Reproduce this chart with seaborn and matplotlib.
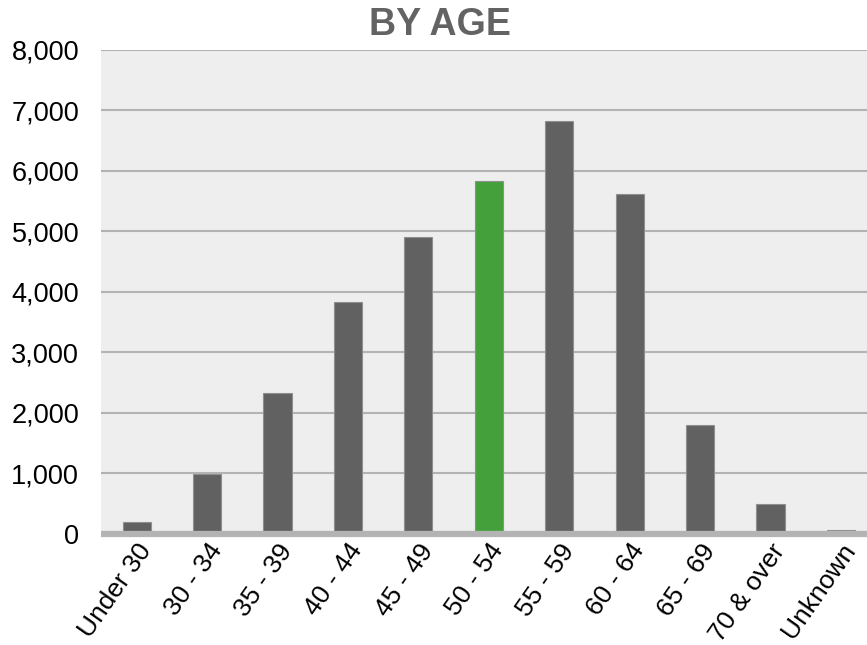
import matplotlib
matplotlib.use("Agg")
import matplotlib.pyplot as plt
import seaborn as sns
import pandas as pd
from matplotlib.ticker import FuncFormatter

categories = ["Under 30", "30 - 34", "35 - 39", "40 - 44", "45 - 49", "50 - 54",
              "55 - 59", "60 - 64", "65 - 69", "70 & over", "Unknown"]
values = [190, 980, 2330, 3830, 4910, 5830, 6820, 5610, 1800, 490, 70]
highlight = "50 - 54"

df = pd.DataFrame({"age": categories, "count": values})
palette = {c: ("#43a03a" if c == highlight else "#616161") for c in categories}

sns.set_theme(style="white")
plt.rcParams["font.family"] = ["Liberation Sans", "DejaVu Sans"]

fig = plt.figure(figsize=(8.67, 6.45), dpi=100)
ax = fig.add_axes([0.1170, 0.1724, 0.8830, 0.7508])
ax.set_facecolor("#eeeeee")

sns.barplot(data=df, x="age", y="count", hue="age", palette=palette, order=categories,
            hue_order=categories, legend=False, width=0.4, edgecolor="#8f8f8f",
            linewidth=0.8, saturation=1, ax=ax, zorder=3)

ax.set_ylim(0, 8000)
ax.set_xlim(-0.5, 10.37)
ax.set_yticks(range(0, 8001, 1000))
ax.yaxis.set_major_formatter(FuncFormatter(lambda v, p: f"{int(v):,}"))
ax.grid(axis="y", color="#b3b3b3", linewidth=1.5, zorder=0)
ax.grid(axis="x", visible=False)
ax.set_axisbelow(True)
for s in ["top", "right", "left"]:
    ax.spines[s].set_visible(False)
ax.spines["bottom"].set_color("#b3b3b3")
ax.spines["bottom"].set_linewidth(4.5)
ax.spines["bottom"].set_capstyle("butt")
ax.spines["bottom"].set_zorder(5)

ax.tick_params(axis="y", length=0, labelsize=19.5, colors="black", pad=16)
ax.tick_params(axis="x", length=0, labelsize=19, colors="black", pad=4)
plt.setp(ax.get_xticklabels(), rotation=55, ha="right", rotation_mode="anchor")
ax.set_xlabel("")
ax.set_ylabel("")
fig.text(0.508, 0.962, "BY AGE", fontsize=27, fontweight="bold", color="#636363",
         ha="center", va="center")

fig.savefig("out.png", dpi=100)
